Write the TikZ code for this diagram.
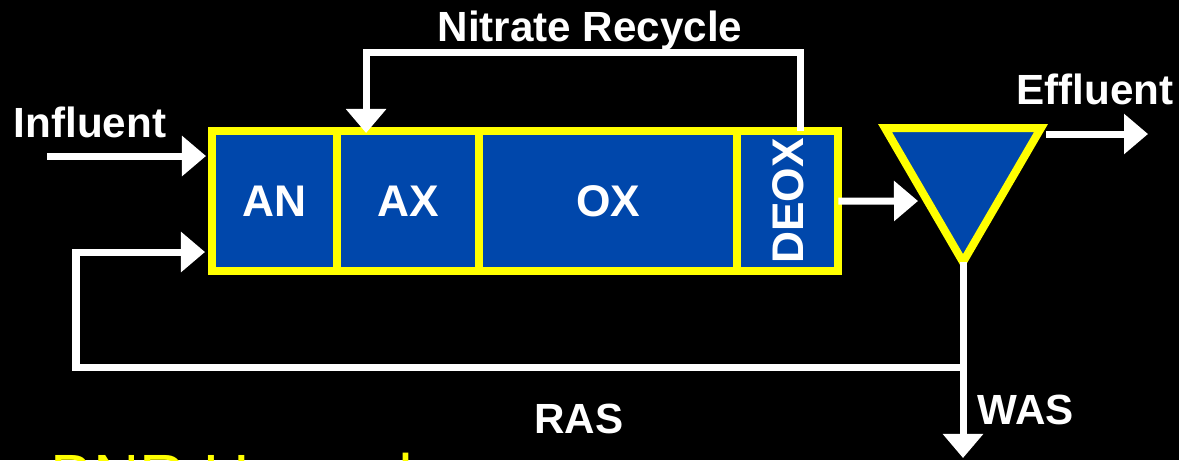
\documentclass[tikz,border=0pt]{standalone}
\usepackage{fontspec}
\setmainfont{Liberation Sans}
\usetikzlibrary{arrows.meta, positioning}
\definecolor{tankblue}{RGB}{0,71,171}
\definecolor{tankyellow}{RGB}{255,255,0}

\begin{document}
\begin{tikzpicture}[
    x=0.01cm, y=-0.01cm,
    every node/.style={font=\fontsize{12}{14}\selectfont\bfseries, text=white},
    cell/.style={draw=tankyellow, fill=tankblue, line width=0.08cm,
        outer sep=0pt, inner sep=0pt, minimum height=1.40cm,
        font=\fontsize{12.6}{14}\selectfont\bfseries},
    tag/.style={inner sep=0pt, anchor=base},
    flow/.style={draw=white, line width=0.07cm, line join=miter,
        -{Triangle[length=0.24cm, width=0.39cm]}},
]

% Background
\fill[black] (0,0) rectangle (1179,460);
\useasboundingbox (0,0) rectangle (1179,460);
\clip (0,0) rectangle (1179,460);

% Reactor zones
\node[cell, minimum width=1.25cm, anchor=north west] (an) at (212,131) {AN};
\node[cell, minimum width=1.42cm, right=0pt of an] (ax) {AX};
\node[cell, minimum width=2.58cm, right=0pt of ax] (ox) {OX};
\node[cell, minimum width=1.01cm, right=0pt of ox] (deox) {\rotatebox{90}{DEOX}};

% Clarifier
\coordinate (clar-tl) at (885,128);
\coordinate (clar-tr) at (1041,128);
\coordinate (clar-b) at (963,262);
\filldraw[draw=tankyellow, fill=tankblue, line width=0.08cm, line join=miter]
    (clar-tl) -- (clar-tr) -- (clar-b) -- cycle;

% Flow lines
\coordinate (infl) at (47,156);
\draw[flow, shorten >=0.06cm] (infl) -- (infl -| an.west);

\draw[flow] ([xshift=0.125cm]deox.north) -- ++(0,-79)
    -| ([xshift=-0.42cm, yshift=-0.02cm]ax.north);

\coordinate (clar-in) at (918,201);
\draw[flow] (deox.east) -- (clar-in);

\coordinate (eff-out) at (1046,134);
\coordinate (eff-end) at (1148,134);
\draw[flow] (eff-out) -- (eff-end);

\coordinate (was-end) at (963,458);
\draw[flow] (clar-b) -- (was-end);

\coordinate (ras-j) at (963,367);
\coordinate (ras-c) at (76,252);
\draw[flow, shorten >=0.07cm] (ras-j) -| (ras-c) -- (ras-c -| an.west);

% Labels
\node[tag] (nitrate) at (590,41) {Nitrate Recycle};
\node[tag] (influent) at (90,137) {Influent};
\node[tag] (effluent) at (1095,104) {Effluent};
\node[tag] (ras) at (579,433) {RAS};
\node[tag] (was) at (1026,424) {WAS};

\node[tag, anchor=base west, text=tankyellow,
    font=\fontsize{18.2}{22}\selectfont] (title) at (50,499) {BNR Upgrade};

\end{tikzpicture}
\end{document}
